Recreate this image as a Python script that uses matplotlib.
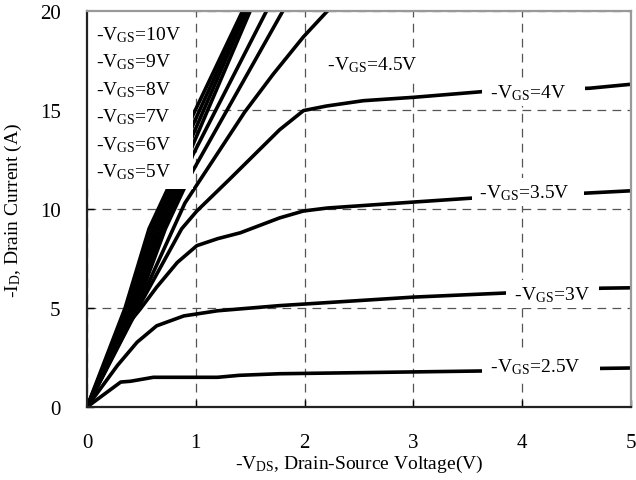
import matplotlib
matplotlib.use('Agg')
import matplotlib.pyplot as plt
from matplotlib.patches import Rectangle

plt.rcParams['font.family'] = 'Liberation Serif'
plt.rcParams['mathtext.fontset'] = 'custom'
plt.rcParams['mathtext.rm'] = 'Liberation Serif'

# -VDS (V) vs -ID (A)
vds_10v = [0, 0.35, 0.57, 0.74, 0.97, 1.43]
id_10v = [0, 5.0, 9.0, 11.0, 14.7, 20.0]
vds_9v = [0, 0.37, 0.60, 0.77, 0.97, 1.45]
id_9v = [0, 5.0, 9.0, 11.0, 14.2, 20.0]
vds_8v = [0, 0.39, 0.63, 0.80, 0.97, 1.47]
id_8v = [0, 5.0, 9.0, 11.0, 13.7, 20.0]
vds_7v = [0, 0.41, 0.66, 0.83, 0.97, 1.50]
id_7v = [0, 5.0, 9.0, 11.0, 13.2, 20.0]
vds_6v = [0, 0.43, 0.69, 0.86, 0.97, 1.65]
id_6v = [0, 5.0, 9.0, 11.0, 12.7, 20.0]
vds_5v = [0, 0.45, 0.72, 0.89, 0.97, 1.80]
id_5v = [0, 5.0, 9.0, 11.0, 11.9, 20.0]
vds_45v = [0, 0.46, 0.90, 1.45, 1.71, 1.99, 2.21]
id_45v = [0, 5.0, 10.3, 14.9, 16.8, 18.7, 20.0]
vds_4v = [0, 0.47, 0.87, 1.01, 1.31, 1.77, 1.99, 2.2, 2.54, 3.0, 3.64, 4.62, 5.0]
id_4v = [0, 5.0, 9.0, 9.9, 11.5, 14.0, 14.97, 15.2, 15.47, 15.64, 15.93, 16.1, 16.3]
vds_35v = [0, 0.34, 0.49, 0.64, 0.83, 1.01, 1.2, 1.41, 1.77, 1.99, 2.21, 3.0, 3.54, 4.58, 5.0]
id_35v = [0, 3.94, 4.95, 6.05, 7.3, 8.15, 8.5, 8.8, 9.55, 9.9, 10.05, 10.35, 10.55, 10.8, 10.92]
vds_3v = [0, 0.28, 0.46, 0.64, 0.89, 1.2, 1.77, 3.0, 3.86, 4.73, 5.0]
id_3v = [0, 2.1, 3.27, 4.1, 4.6, 4.86, 5.12, 5.55, 5.76, 6.0, 6.02]
vds_25v = [0, 0.31, 0.40, 0.61, 1.2, 1.4, 1.77, 3.64, 4.73, 5.0]
id_25v = [0, 1.26, 1.3, 1.5, 1.5, 1.6, 1.68, 1.82, 1.95, 1.97]

curves = [(vds_10v, id_10v), (vds_9v, id_9v), (vds_8v, id_8v), (vds_7v, id_7v),
          (vds_6v, id_6v), (vds_5v, id_5v), (vds_45v, id_45v), (vds_4v, id_4v),
          (vds_35v, id_35v), (vds_3v, id_3v), (vds_25v, id_25v)]

legend_vgs = ['10V', '9V', '8V', '7V', '6V', '5V']
# inline labels: (text, x, y, trailing spaces)
inline_vgs = [('4.5V', 2.14, 17.3, 0), ('4V', 3.64, 15.9, 4), ('3.5V', 3.54, 10.86, 3),
              ('3V', 3.86, 5.7, 2), ('2.5V', 3.64, 2.07, 4)]

fig = plt.figure(figsize=(6.36, 4.81), dpi=100)
ax = fig.add_axes([87/636, 73/481, 544/636, 396/481])

for x, y in curves:
    ax.plot(x, y, color='black', lw=2.6, solid_joinstyle='round', zorder=2)

ax.set_xlim(0, 5)
ax.set_ylim(0, 20)
ax.set_xticks([0, 1, 2, 3, 4, 5])
ax.set_yticks([0, 5, 10, 15, 20])
ax.grid(True, ls=(0, (7, 5)), color='#555555', lw=0.9)
ax.tick_params(direction='in', length=5, width=1, pad=19, labelsize=15)

for s in ['top', 'right']:
    ax.spines[s].set_color('#999999')
    ax.spines[s].set_linewidth(1.6)
for s in ['left', 'bottom']:
    ax.spines[s].set_color('#222222')
    ax.spines[s].set_linewidth(1.6)
for s in ax.spines.values():
    s.set_zorder(5)

# white block behind the stacked legend text
ax.add_patch(Rectangle((0, 11.0), 0.97, 9.0, facecolor='white', edgecolor='none', zorder=3))
for i, v in enumerate(legend_vgs):
    ax.text(0.08, 18.84 - i * 1.39, '-$\\mathregular{V_{GS}}$=' + v,
            fontsize=14, va='center', ha='left', zorder=4)

for v, x, y, n in inline_vgs:
    ax.text(x + 0.03, y, ' -$\\mathregular{V_{GS}}$=' + v + ' ' * n,
            fontsize=14, va='center', ha='left', zorder=4,
            bbox=dict(boxstyle='square,pad=0.2', fc='white', ec='none'))

ax.set_xlabel('-$\\mathregular{V_{DS}}$, Drain-Source Voltage(V)', fontsize=14, labelpad=0)
ax.set_ylabel('-$\\mathregular{I_D}$, Drain Current (A)', fontsize=14, labelpad=11)

fig.savefig('out.png', dpi=100)
